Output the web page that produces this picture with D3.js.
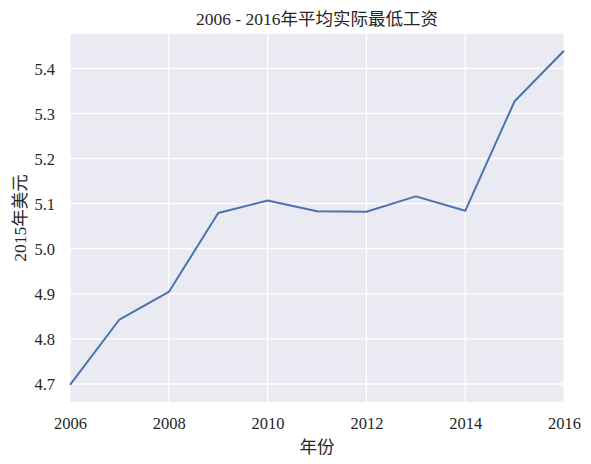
<!DOCTYPE html>
<html><head><meta charset="utf-8">
<script src="https://cdn.jsdelivr.net/npm/d3@7"></script>
<style>body{margin:0;background:#fff}svg{display:block}text{font-family:"Liberation Serif","Noto Sans CJK SC",serif;fill:#262626}</style>
</head><body>
<script>
const years = [2006,2007,2008,2009,2010,2011,2012,2013,2014,2015,2016];
const wages = [4.698,4.843,4.904,5.079,5.107,5.083,5.082,5.116,5.084,5.327,5.439];
const yTicks = [4.7,4.8,4.9,5.0,5.1,5.2,5.3,5.4];
const xTicks = [2006,2008,2010,2012,2014,2016];
const title = "2006 - 2016年平均实际最低工资";
const xLabel = "年份";
const yLabel = "2015年美元";

const W=591,H=464, L=70,R=564,T=34,B=402;
const svg=d3.select("body").append("svg").attr("width",W).attr("height",H);
const x=d3.scaleLinear().domain([2006,2016]).range([L,R]);
const y=d3.scaleLinear().domain([4.7,5.4]).range([384,68.3]);
svg.append("rect").attr("x",L).attr("y",T).attr("width",R-L).attr("height",B-T).attr("fill","#EAEAF2");
const g=svg.append("g");
g.selectAll(".gy").data(yTicks).join("line").attr("x1",L).attr("x2",R).attr("y1",d=>y(d)).attr("y2",d=>y(d)).attr("stroke","#fff").attr("stroke-width",1.3);
g.selectAll(".gx").data(xTicks).join("line").attr("y1",T).attr("y2",B).attr("x1",d=>x(d)).attr("x2",d=>x(d)).attr("stroke","#fff").attr("stroke-width",1.3);
const line=d3.line().x((d,i)=>x(years[i])).y(d=>y(d));
svg.append("path").datum(wages).attr("d",line).attr("fill","none").attr("stroke","#4C72B0").attr("stroke-width",2).attr("stroke-linejoin","round");
const ya=svg.append("g").attr("transform",`translate(${L},0)`).call(d3.axisLeft(y).tickValues(yTicks).tickFormat(d3.format(".1f")).tickSize(0).tickPadding(15));
const xa=svg.append("g").attr("transform",`translate(0,${B})`).call(d3.axisBottom(x).tickValues(xTicks).tickFormat(d3.format("d")).tickSize(0).tickPadding(15));
[ya,xa].forEach(a=>{a.attr("font-family",null).attr("font-size",null);a.select(".domain").remove();a.selectAll("text").style("font-size","16.5px").style("font-family",'"Liberation Serif","Noto Sans CJK SC",serif').attr("fill","#262626");});
ya.selectAll("text").attr("dy","0.35em");
xa.selectAll("text").attr("dy","0.7em");
svg.append("text").attr("x",(L+R)/2).attr("y",25).attr("text-anchor","middle").style("font-size","17.5px").text(title);
svg.append("text").attr("x",(L+R)/2).attr("y",453).attr("text-anchor","middle").style("font-size","17.5px").text(xLabel);
svg.append("text").attr("transform",`translate(26,${(T+B)/2}) rotate(-90)`).attr("text-anchor","middle").style("font-size","17.5px").text(yLabel);
</script>
</body></html>
